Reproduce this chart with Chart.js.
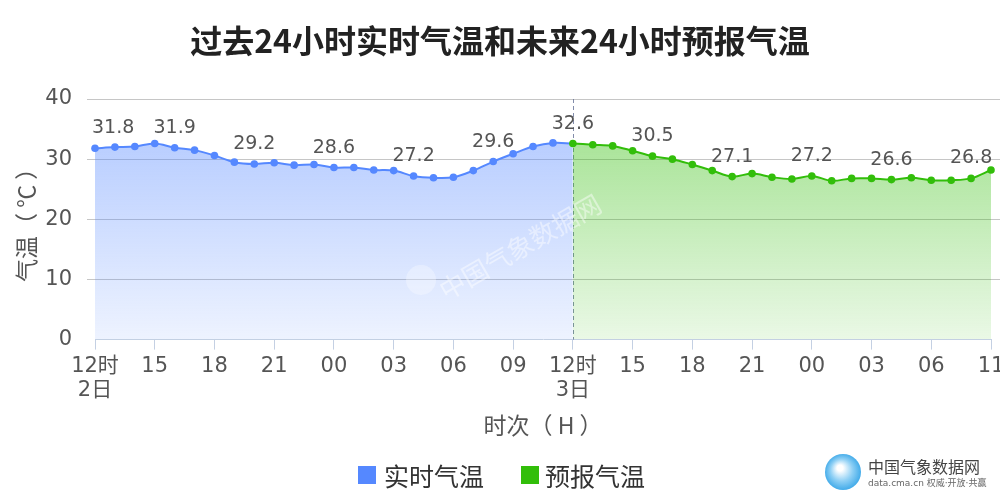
<!DOCTYPE html>
<html>
<head>
<meta charset="utf-8">
<script src="https://cdn.jsdelivr.net/npm/chart.js@4.4.0/dist/chart.umd.min.js"></script>
<style>
  html, body { margin: 0; padding: 0; background: #fff; }
  #wrap { width: 1000px; height: 500px; position: relative; }
</style>
</head>
<body>
<div id="wrap"><canvas id="myChart" width="1000" height="500"></canvas></div>
<script>
// hours on the x axis: 12时 2日 ... 11时 3日 (real), 12时 3日 ... 11 (forecast)
const hours = [
  "12", "13", "14", "15", "16", "17", "18", "19", "20", "21", "22", "23",
  "00", "01", "02", "03", "04", "05", "06", "07", "08", "09", "10", "11",
  "12", "13", "14", "15", "16", "17", "18", "19", "20", "21", "22", "23",
  "00", "01", "02", "03", "04", "05", "06", "07", "08", "11"
];
// labels shown every third hour
const tickLabels = [
  ["12时", "2日"], "15", "18", "21", "00", "03", "06", "09",
  ["12时", "3日"], "15", "18", "21", "00", "03", "06", "11"
];
const realTemp = [
  31.8, 32.0, 32.1, 32.6, 31.9, 31.5, 30.6, 29.5, 29.2, 29.4, 29.0, 29.1,
  28.6, 28.6, 28.2, 28.1, 27.2, 26.9, 27.0, 28.1, 29.6, 30.9, 32.1, 32.7
];
const forecastTemp = [
  32.6, 32.4, 32.2, 31.4, 30.5, 30.0, 29.1, 28.1, 27.1, 27.6, 27.0,
  26.7, 27.2, 26.4, 26.8, 26.8, 26.6, 26.9, 26.5, 26.5, 26.8, 28.2
];
const yTicks = [0, 10, 20, 30, 40];

const BLUE = "rgb(85,136,255)";
const GREEN = "rgb(50,190,10)";
const FONT = "'DejaVu Sans', 'Noto Sans CJK SC', sans-serif";
const CJK = "'Noto Sans CJK SC', 'DejaVu Sans', sans-serif";

const splitAt = realTemp.length;
const blueData = realTemp.concat([forecastTemp[0]]);
while (blueData.length < hours.length) blueData.push(null);
const greenData = [];
for (let i = 0; i < splitAt; i++) greenData.push(null);
forecastTemp.forEach((v) => greenData.push(v));

function gradient(ctx, chartArea, rgb) {
  const g = ctx.createLinearGradient(0, chartArea.top + 40, 0, chartArea.bottom);
  g.addColorStop(0, `rgba(${rgb},0.42)`);
  g.addColorStop(1, `rgba(${rgb},0.1)`);
  return g;
}

const extras = {
  id: "extras",
  beforeDatasetsDraw(chart) {
    const { ctx, chartArea } = chart;
    const ys = chart.scales.y;
    ctx.save();
    // grid lines run on to the right edge
    ctx.strokeStyle = "#c6c6c6";
    ctx.lineWidth = 1;
    yTicks.slice(1).forEach((t) => {
      const y = Math.round(ys.getPixelForValue(t)) + 0.5;
      ctx.beginPath();
      ctx.moveTo(chartArea.right, y);
      ctx.lineTo(1000, y);
      ctx.stroke();
    });
    const x = chart.scales.x.getPixelForValue(splitAt);
    ctx.strokeStyle = "rgba(100,112,150,0.8)";
    ctx.setLineDash([4, 3]);
    ctx.beginPath();
    ctx.moveTo(Math.round(x) + 0.5, chartArea.top);
    ctx.lineTo(Math.round(x) + 0.5, chartArea.bottom);
    ctx.stroke();
    ctx.restore();
  },
  afterDatasetsDraw(chart) {
    const { ctx, chartArea } = chart;
    const xs = chart.scales.x, ys = chart.scales.y;
    ctx.save();
    // watermark
    ctx.save();
    ctx.translate(520, 247);
    ctx.rotate(-Math.PI / 6);
    ctx.fillStyle = "rgba(255,255,255,0.45)";
    ctx.font = "26px " + CJK;
    ctx.textAlign = "center";
    ctx.textBaseline = "middle";
    ctx.fillText("中国气象数据网", 0, 0);
    ctx.restore();
    ctx.beginPath();
    ctx.arc(421, 280, 15, 0, Math.PI * 2);
    ctx.fillStyle = "rgba(255,255,255,0.3)";
    ctx.fill();

    // value labels every fourth point
    ctx.font = "19px " + FONT;
    ctx.fillStyle = "#555";
    ctx.textBaseline = "alphabetic";
    ctx.textAlign = "center";
    for (let i = 0; i < hours.length; i += 4) {
      const v = i < splitAt ? realTemp[i] : forecastTemp[i - splitAt];
      const txt = v.toFixed(1);
      const w = ctx.measureText(txt).width;
      let px = xs.getPixelForValue(i);
      px = Math.max(px, chartArea.left - 3 + w / 2);
      px = Math.min(px, 999 - w / 2);
      ctx.fillText(txt, px, ys.getPixelForValue(v) - 15);
    }
    ctx.restore();
  },
  afterDraw(chart) {
    const { ctx } = chart;
    ctx.save();
    // title
    ctx.fillStyle = "#222";
    ctx.font = "bold 32px " + CJK;
    ctx.textAlign = "center";
    ctx.textBaseline = "middle";
    ctx.fillText("过去24小时实时气温和未来24小时预报气温", 500, 41);

    // legend
    ctx.textAlign = "left";
    ctx.font = "25px " + CJK;
    ctx.fillStyle = BLUE;
    ctx.fillRect(358, 466, 18, 18);
    ctx.fillStyle = "#333";
    ctx.fillText("实时气温", 384, 476);
    ctx.fillStyle = GREEN;
    ctx.fillRect(521, 466, 18, 18);
    ctx.fillStyle = "#333";
    ctx.fillText("预报气温", 545, 476);

    // logo
    const lg = ctx.createRadialGradient(840, 468, 3, 843, 472, 19);
    lg.addColorStop(0, "#ffffff");
    lg.addColorStop(0.5, "#8fd0f5");
    lg.addColorStop(1, "#3aa7e8");
    ctx.beginPath();
    ctx.arc(843, 472, 18, 0, Math.PI * 2);
    ctx.fillStyle = lg;
    ctx.fill();
    ctx.fillStyle = "#444";
    ctx.font = "16px " + CJK;
    ctx.fillText("中国气象数据网", 868, 467);
    ctx.fillStyle = "#666";
    ctx.font = "9px " + FONT;
    ctx.fillText("data.cma.cn 权威·开放·共赢", 868, 484);
    ctx.restore();
  },
};

const ctx = document.getElementById("myChart").getContext("2d");
const myChart = new Chart(ctx, {
  type: "line",
  data: {
    labels: hours,
    datasets: [
      {
        label: "实时气温",
        data: blueData,
        borderColor: BLUE,
        backgroundColor: BLUE,
        borderWidth: 2,
        pointRadius: blueData.map((v, i) => (i === splitAt ? 0 : 3.8)),
        pointBackgroundColor: BLUE,
        pointBorderWidth: 0,
        tension: 0.35,
        fill: {
          target: "origin",
          above: (c) => (c.chart.chartArea ? gradient(c.chart.ctx, c.chart.chartArea, "85,136,255") : "transparent"),
        },
        order: 2,
      },
      {
        label: "预报气温",
        data: greenData,
        borderColor: GREEN,
        backgroundColor: GREEN,
        borderWidth: 2,
        pointRadius: 3.8,
        pointBackgroundColor: GREEN,
        pointBorderWidth: 0,
        tension: 0.35,
        fill: {
          target: "origin",
          above: (c) => (c.chart.chartArea ? gradient(c.chart.ctx, c.chart.chartArea, "50,190,10") : "transparent"),
        },
        order: 1,
      },
    ],
  },
  options: {
    responsive: false,
    animation: false,
    spanGaps: false,
    layout: { padding: { left: 0, right: 9, top: 99, bottom: 61.2 } },
    plugins: {
      legend: { display: false },
      tooltip: { enabled: false },
      title: { display: false },
    },
    scales: {
      x: {
        type: "category",
        offset: false,
        afterFit(scale) {
          scale.height = 99.2;
          scale.paddingLeft = 0;
          scale.paddingRight = 0;
        },
        grid: {
          drawOnChartArea: false,
          drawTicks: true,
          tickLength: 10,
          color: "#c4d0e3",
        },
        border: { display: true, color: "#c4d0e3", width: 1 },
        ticks: {
          autoSkip: false,
          maxRotation: 0,
          padding: 5,
          color: "#555",
          font: { family: FONT, size: 21, lineHeight: 1.15 },
          callback: (val, i) => (i % 3 === 0 ? tickLabels[i / 3] : null),
        },
        title: {
          display: true,
          text: "时次（ H ）",
          color: "#555",
          font: { family: CJK, size: 23 },
          padding: { top: 0, bottom: 0 },
        },
      },
      y: {
        min: 0,
        max: 40,
        afterFit(scale) {
          scale.width = 95;
          scale.paddingTop = 0;
          scale.paddingBottom = 0;
        },
        afterBuildTicks(scale) {
          scale.ticks = yTicks.map((v) => ({ value: v }));
        },
        grid: {
          color: (c) => (c.tick && c.tick.value === 0 ? "rgba(0,0,0,0)" : "#c6c6c6"),
          drawTicks: true,
          tickLength: 8,
        },
        border: { display: false },
        ticks: {
          padding: 15,
          color: "#555",
          font: { family: FONT, size: 21 },
        },
        title: {
          display: true,
          text: "气温（ ℃ ）",
          color: "#555",
          font: { family: CJK, size: 23 },
          padding: { top: 12, bottom: 0 },
        },
      },
    },
  },
  plugins: [extras],
});
</script>
</body>
</html>
